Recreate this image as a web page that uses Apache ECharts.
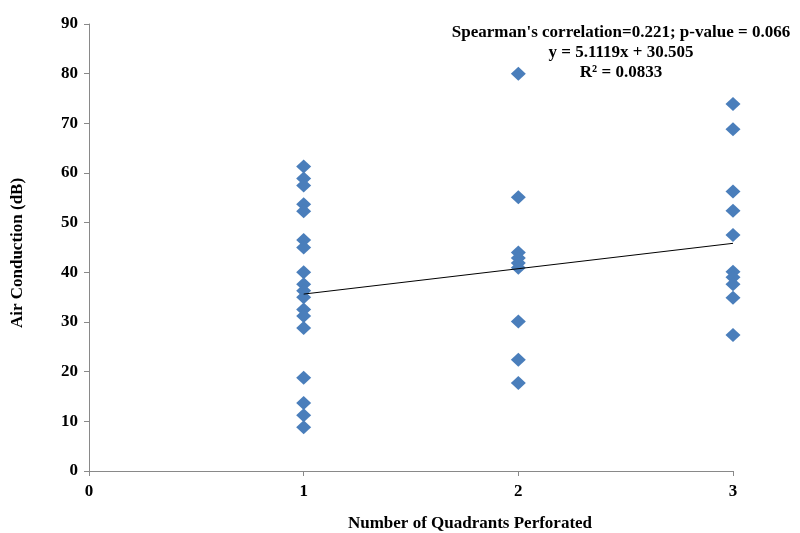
<!DOCTYPE html>
<html><head><meta charset="utf-8">
<script src="https://cdn.jsdelivr.net/npm/echarts@6/dist/echarts.min.js"></script>
<style>html,body{margin:0;padding:0;background:#fff}#c{width:800px;height:533px}</style>
</head><body><div id="c"></div>
<script>
const xTicks = [0, 1, 2, 3];
const yTicks = [0, 10, 20, 30, 40, 50, 60, 70, 80, 90];
const q1 = [61.3, 58.9, 57.5, 53.7, 52.3, 46.5, 45.0, 40.0, 37.6, 36.3, 35.0, 32.5, 31.2, 28.8, 18.8, 13.7, 11.2, 8.8];
const q2 = [80.0, 55.1, 44.0, 42.9, 41.9, 40.9, 30.1, 22.4, 17.7];
const q3 = [73.9, 68.8, 56.3, 52.4, 47.5, 40.1, 39.0, 37.6, 34.9, 27.4];
const trendX = [1, 3];
const trendY = [35.62, 45.84];
const annot = ["Spearman's correlation=0.221; p-value = 0.066", "y = 5.1119x + 30.505", "R² = 0.0833"];

const pts = [];
q1.forEach(v => pts.push([1, v]));
q2.forEach(v => pts.push([2, v]));
q3.forEach(v => pts.push([3, v]));

const font = '"Liberation Serif", "Times New Roman", serif';
const chart = echarts.init(document.getElementById('c'), null, {renderer: 'canvas'});
chart.setOption({
  animation: false,
  grid: {left: 89, right: 67, top: 24, bottom: 62},
  xAxis: {
    type: 'value', min: 0, max: 3, interval: 1,
    axisLine: {show: true, lineStyle: {color: '#898989', width: 1}},
    axisTick: {show: true, length: 5, lineStyle: {color: '#898989'}},
    splitLine: {show: false},
    axisLabel: {color: '#000', fontFamily: font, fontWeight: 'bold', fontSize: 17, margin: 12}
  },
  yAxis: {
    type: 'value', min: 0, max: 90, interval: 10,
    axisLine: {show: true, lineStyle: {color: '#898989', width: 1}},
    axisTick: {show: true, length: 5, lineStyle: {color: '#898989'}},
    splitLine: {show: false},
    axisLabel: {color: '#000', fontFamily: font, fontWeight: 'bold', fontSize: 17, margin: 11}
  },
  graphic: [
    {type: 'text', position: [470, 524], style: {text: 'Number of Quadrants Perforated', font: 'bold 17px ' + font, fill: '#000', textAlign: 'center', textVerticalAlign: 'middle'}},
    {type: 'text', rotation: Math.PI / 2, position: [18, 253], style: {text: 'Air Conduction (dB)', font: 'bold 17px ' + font, fill: '#000', textAlign: 'center', textVerticalAlign: 'middle'}},
    {type: 'text', position: [621, 33], style: {text: annot[0], font: 'bold 17px ' + font, fill: '#000', textAlign: 'center', textVerticalAlign: 'middle'}},
    {type: 'text', position: [621, 53], style: {text: annot[1], font: 'bold 17px ' + font, fill: '#000', textAlign: 'center', textVerticalAlign: 'middle'}},
    {type: 'text', position: [621, 73], style: {text: annot[2], font: 'bold 17px ' + font, fill: '#000', textAlign: 'center', textVerticalAlign: 'middle'}}
  ],
  series: [
    {type: 'line', data: trendX.map((x, i) => [x, trendY[i]]), symbol: 'none', lineStyle: {color: '#000', width: 1}, z: 3},
    {type: 'scatter', data: pts, symbol: 'diamond', symbolSize: [15, 14], itemStyle: {color: '#4A7EBB', opacity: 1}, z: 2}
  ]
});
</script></body></html>
